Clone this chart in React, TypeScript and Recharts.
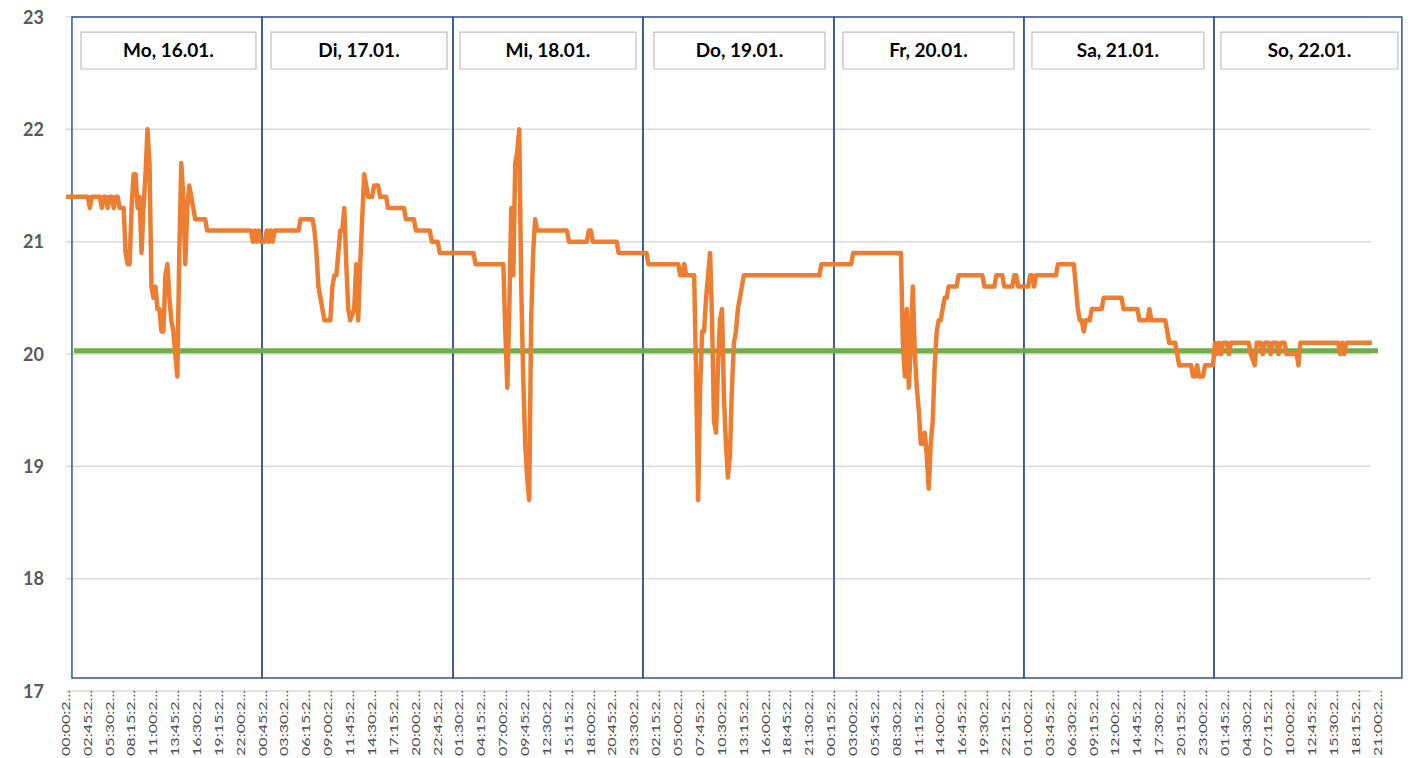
// Raumtemperatur Woche 16.01. – 22.01.
import { LineChart, Line, XAxis, YAxis, CartesianGrid, ReferenceArea } from 'recharts'

// [Stunden seit Mo 00:00, °C]
const MON: [number, number][] = [
  [0, 21.4], [2.75, 21.4], [3.0, 21.3], [3.25, 21.4], [4.25, 21.4], [4.5, 21.3], [4.75, 21.4], [5.0, 21.4],
  [5.25, 21.3], [5.5, 21.4], [5.75, 21.4], [6.0, 21.3], [6.25, 21.4], [6.5, 21.4], [6.75, 21.3], [7.25, 21.3],
  [7.5, 20.9], [7.75, 20.8], [8.0, 20.8], [8.25, 21.3], [8.5, 21.6], [8.75, 21.6], [9.0, 21.3], [9.25, 21.4],
  [9.5, 20.9], [9.75, 21.3], [10.0, 21.6], [10.25, 22.0], [10.5, 21.7], [10.75, 20.6], [11.0, 20.5], [11.25, 20.6],
  [11.5, 20.4], [11.75, 20.4], [12.0, 20.2], [12.25, 20.2], [12.5, 20.7], [12.75, 20.8], [13.0, 20.5], [13.25, 20.3],
  [13.5, 20.2], [13.75, 20.0], [14.0, 19.8], [14.25, 20.9], [14.5, 21.7], [14.75, 21.4], [15.0, 20.8], [15.25, 21.3],
  [15.5, 21.5], [15.75, 21.4], [16.0, 21.3], [16.25, 21.2], [17.5, 21.2], [17.75, 21.1], [23.25, 21.1], [23.5, 21.0],
  [23.75, 21.1], [24.0, 21.0], [24.25, 21.1], [24.5, 21.0], [25.0, 21.0], [25.25, 21.1], [25.5, 21.0], [25.75, 21.1],
  [26.0, 21.0], [26.25, 21.1],
]

const TUE: [number, number][] = [
  [29.25, 21.1], [29.5, 21.2], [31.0, 21.2], [31.25, 21.1], [31.5, 20.9], [31.75, 20.6], [32.0, 20.5], [32.25, 20.4],
  [32.5, 20.3], [33.25, 20.3], [33.5, 20.6], [33.75, 20.7], [34.0, 20.7], [34.25, 20.9], [34.5, 21.1], [34.75, 21.1],
  [35.0, 21.3], [35.25, 20.8], [35.5, 20.4], [35.75, 20.3], [36.25, 20.4], [36.5, 20.8], [36.75, 20.3], [37.0, 20.8],
  [37.25, 21.2], [37.5, 21.6], [37.75, 21.5], [38.0, 21.4], [38.5, 21.4], [38.75, 21.5], [39.25, 21.5], [39.5, 21.4],
  [40.25, 21.4], [40.5, 21.3], [42.5, 21.3], [42.75, 21.2], [43.75, 21.2], [44.0, 21.1], [45.75, 21.1], [46.0, 21.0],
  [46.75, 21.0], [47.0, 20.9], [51.25, 20.9],
]

const WED: [number, number][] = [
  [51.5, 20.8], [55.0, 20.8], [55.25, 20.2], [55.5, 19.7], [55.75, 20.4], [56.0, 21.3], [56.25, 20.7], [56.5, 21.7],
  [56.75, 21.8], [57.0, 22.0], [57.25, 20.6], [57.5, 19.8], [57.75, 19.2], [58.0, 18.9], [58.25, 18.7], [58.5, 20.3],
  [58.75, 20.9], [59.0, 21.2], [59.25, 21.1], [63.0, 21.1], [63.25, 21.0], [65.5, 21.0], [65.75, 21.1], [66.0, 21.1],
  [66.25, 21.0], [69.25, 21.0], [69.5, 20.9], [73.0, 20.9],
]

const THU: [number, number][] = [
  [73.25, 20.8], [77.0, 20.8], [77.25, 20.7], [77.5, 20.7], [77.75, 20.8], [78.0, 20.7], [79.0, 20.7], [79.25, 19.8],
  [79.5, 18.7], [79.75, 19.7], [80.0, 20.2], [80.25, 20.2], [80.5, 20.5], [80.75, 20.7], [81.0, 20.9], [81.25, 20.3],
  [81.5, 19.4], [81.75, 19.3], [82.0, 19.9], [82.25, 20.3], [82.5, 20.4], [82.75, 19.6], [83.0, 19.2], [83.25, 18.9],
  [83.5, 19.1], [83.75, 19.7], [84.0, 20.1], [84.25, 20.2], [84.5, 20.4], [84.75, 20.5], [85.0, 20.6], [85.25, 20.7],
  [94.75, 20.7], [95.0, 20.8], [98.75, 20.8],
]

const FRI: [number, number][] = [
  [99.0, 20.9], [105.0, 20.9], [105.25, 20.1], [105.5, 19.8], [105.75, 20.4], [106.0, 19.7], [106.25, 20.1],
  [106.5, 20.6], [106.75, 20.0], [107.0, 19.7], [107.25, 19.5], [107.5, 19.2], [107.75, 19.2], [108.0, 19.3],
  [108.25, 19.1], [108.5, 18.8], [108.75, 19.2], [109.0, 19.4], [109.25, 19.9], [109.5, 20.2], [109.75, 20.3],
  [110.0, 20.3], [110.25, 20.4], [110.5, 20.5], [110.75, 20.5], [111.0, 20.6], [112.0, 20.6], [112.25, 20.7],
  [115.25, 20.7], [115.5, 20.6], [116.75, 20.6], [117.0, 20.7], [117.75, 20.7], [118.0, 20.6], [119.0, 20.6],
  [119.25, 20.7], [119.5, 20.7], [119.75, 20.6], [121.0, 20.6], [121.25, 20.7], [121.5, 20.7], [121.75, 20.6],
  [122.0, 20.7],
]

const SAT: [number, number][] = [
  [124.5, 20.7], [124.75, 20.8], [126.75, 20.8], [127.0, 20.6], [127.25, 20.4], [127.5, 20.3], [127.75, 20.3],
  [128.0, 20.2], [128.25, 20.3], [128.75, 20.3], [129.0, 20.4], [130.25, 20.4], [130.5, 20.5], [132.75, 20.5],
  [133.0, 20.4], [134.75, 20.4], [135.0, 20.3], [136.0, 20.3], [136.25, 20.4], [136.5, 20.3], [138.25, 20.3],
  [138.5, 20.2], [138.75, 20.1], [139.5, 20.1], [139.75, 20.0], [140.0, 19.9], [141.5, 19.9], [141.75, 19.8],
  [142.0, 19.8], [142.25, 19.9], [142.5, 19.8], [143.0, 19.8], [143.25, 19.9], [144.25, 19.9],
]

const SUN: [number, number][] = [
  [144.5, 20.1], [144.75, 20.0], [145.0, 20.1], [145.25, 20.0], [145.5, 20.1], [146.0, 20.1], [146.25, 20.0],
  [146.5, 20.1], [148.75, 20.1], [149.0, 20.0], [149.5, 19.9], [149.75, 20.1], [150.25, 20.1], [150.5, 20.0],
  [150.75, 20.1], [151.25, 20.1], [151.5, 20.0], [151.75, 20.1], [152.25, 20.1], [152.5, 20.0], [152.75, 20.1],
  [153.25, 20.1], [153.5, 20.0], [154.75, 20.0], [155.0, 19.9], [155.25, 20.1], [160.0, 20.1], [160.25, 20.0],
  [160.5, 20.1], [160.75, 20.0], [161.0, 20.1], [164.25, 20.1],
]

// Sollwert
const TARGET: [number, number][] = [[1.0, 20.03], [165, 20.03]]

const Y_TICKS = [17, 18, 19, 20, 21, 22, 23]
const X_TICKS = Array.from({ length: 61 }, (_, i) => i * 2.75)

const DAY_LABELS = ['Mo, 16.01.', 'Di, 17.01.', 'Mi, 18.01.', 'Do, 19.01.', 'Fr, 20.01.', 'Sa, 21.01.', 'So, 22.01.']
const DAY_EDGES = [0.75, 24.65, 48.67, 72.56, 96.58, 120.47, 144.37, 168.0]
const LABEL_SPANS: [number, number][] = [
  [1.89, 23.89], [25.78, 47.92], [49.55, 71.68], [73.94, 95.45], [97.71, 119.22], [121.48, 143.1], [145.25, 167.5],
]

const tempData = [...MON, ...TUE, ...WED, ...THU, ...FRI, ...SAT, ...SUN].map(([h, t]) => ({ h, t }))
const targetData = TARGET.map(([h, t]) => ({ h, t }))

const FONT = 'Lato, "Liberation Sans", Arial, sans-serif'

function fmtTime(h: number) {
  const m = Math.round((h % 24) * 60)
  const hh = String(Math.floor(m / 60)).padStart(2, '0')
  const mm = String(m % 60).padStart(2, '0')
  return `${hh}:${mm}:2...`
}

function XTick(props: any) {
  const { x, payload } = props
  return (
    <text
      transform={`translate(${x + 3.8},690) rotate(-90)`}
      textAnchor="end"
      fontSize={10.5}
      fontFamily={FONT}
      fill="#4d4d4d"
      textLength={66}
      lengthAdjust="spacingAndGlyphs"
    >
      {fmtTime(payload.value)}
    </text>
  )
}

function YTick(props: any) {
  const { y, payload } = props
  return (
    <text x={44} y={y} dy={6.5} textAnchor="end" fontSize={18} fontWeight={700} fontFamily={FONT} fill="#595959">
      {payload.value}
    </text>
  )
}

export default function App() {
  return (
    <div style={{ position: 'absolute', left: 0, top: 0, width: 1412, height: 758, background: '#fff' }}>
      <LineChart width={1412} height={758} margin={{ top: 17, right: 34, bottom: 0, left: 0 }}>
        <CartesianGrid vertical={false} stroke="#d9d9d9" strokeWidth={1.5} x={66} width={1305} />
        <XAxis
          type="number"
          dataKey="h"
          domain={[0, 165]}
          ticks={X_TICKS}
          interval={0}
          height={67}
          axisLine={false}
          tickLine={false}
          tick={<XTick />}
          allowDataOverflow
        />
        <YAxis
          type="number"
          domain={[17, 23]}
          ticks={Y_TICKS}
          width={66}
          axisLine={false}
          tickLine={false}
          tick={<YTick />}
        />
        {DAY_LABELS.map((_, i) => (
          <ReferenceArea
            key={`day-${i}`}
            x1={DAY_EDGES[i]}
            x2={DAY_EDGES[i + 1]}
            y1={17.116}
            y2={23}
            fill="none"
            fillOpacity={0}
            stroke="#2F5597"
            strokeWidth={1.5}
            ifOverflow="visible"
          />
        ))}
        <Line
          data={targetData}
          dataKey="t"
          type="linear"
          stroke="#70AD47"
          strokeWidth={5}
          dot={false}
          isAnimationActive={false}
        />
        <Line
          data={tempData}
          dataKey="t"
          type="linear"
          stroke="#ED7D31"
          strokeWidth={4.5}
          strokeLinejoin="round"
          dot={false}
          isAnimationActive={false}
        />
        {DAY_LABELS.map((label, i) => (
          <ReferenceArea
            key={`lbl-${i}`}
            x1={LABEL_SPANS[i][0]}
            x2={LABEL_SPANS[i][1]}
            y1={22.537}
            y2={22.866}
            fill="#ffffff"
            fillOpacity={1}
            stroke="#bfbfbf"
            strokeWidth={1.2}
            ifOverflow="visible"
            label={{ value: label, position: 'center', fill: '#000000', fontSize: 19, fontWeight: 700, fontFamily: FONT }}
          />
        ))}
      </LineChart>
    </div>
  )
}
